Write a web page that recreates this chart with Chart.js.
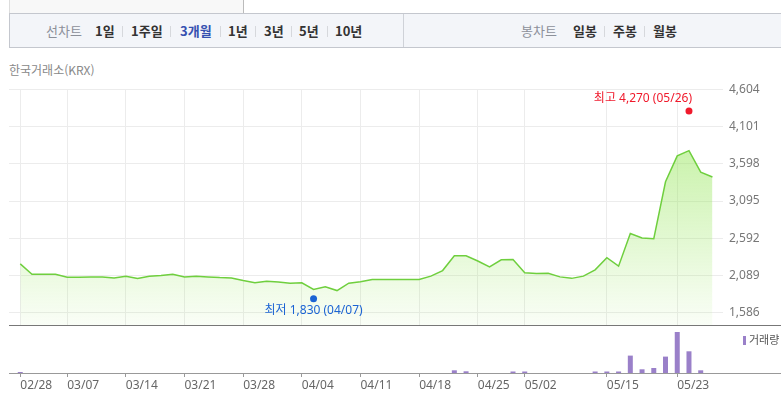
<!DOCTYPE html>
<html lang="ko">
<head>
<meta charset="UTF-8">
<title>한국거래소 3개월 차트</title>
<script src="https://cdn.jsdelivr.net/npm/chart.js@4.4.0/dist/chart.umd.min.js"></script>
<style>
  body { margin: 0; width: 781px; height: 397px; overflow: hidden; background: #fff;
         font-family: 'Noto Sans', 'Noto Sans CJK KR', sans-serif; position: relative; }
  .abs { position: absolute; }
  .topbox { left: 9px; top: 0; width: 233px; height: 13px; background: #f8f8f8; border-right: 1px solid #bbb; border-left: 1px solid #ddd; }
  .tabbar { left: 9px; top: 13px; width: 772px; height: 33px; background: #f3f5f9;
            border-top: 1px solid #c4c7ce; border-bottom: 1px solid #c4c7ce; border-left: 1px solid #c4c7ce; }
  .tabdiv { left: 403px; top: 14px; width: 1px; height: 33px; background: #cfd2d8; }
  .tab { top: 22px; font-size: 13px; font-weight: bold; color: #333; line-height: 18px; font-family: 'Noto Sans CJK KR', sans-serif; }
  .tab.lbl { color: #8c9099; font-weight: normal; }
  .tab.on { color: #3550b0; }
  .sep { top: 26px; width: 1px; height: 11px; background: #d6d8dc; }
  .src { left: 9px; top: 61px; font-size: 12px; color: #888; font-family: 'Noto Sans CJK KR', sans-serif; }
  .vlegend { left: 743px; top: 332px; font-size: 11px; color: #555; font-family: 'Noto Sans CJK KR', sans-serif; line-height: 14px; }
  .vlegend i { display: inline-block; width: 3px; height: 9px; background: #9a80c9; margin-right: 3px; vertical-align: -1px; }
  canvas { position: absolute; left: 0; }
</style>
</head>
<body>
<div class="abs topbox"></div>
<div class="abs tabbar"></div>
<div class="abs tabdiv"></div>

<span class="abs tab lbl" style="left:46px">선차트</span>
<span class="abs tab" style="left:95px">1일</span>
<span class="abs sep" style="left:122px"></span>
<span class="abs tab" style="left:131px">1주일</span>
<span class="abs sep" style="left:170px"></span>
<span class="abs tab on" style="left:180px">3개월</span>
<span class="abs sep" style="left:220px"></span>
<span class="abs tab" style="left:228px">1년</span>
<span class="abs sep" style="left:255px"></span>
<span class="abs tab" style="left:264px">3년</span>
<span class="abs sep" style="left:291px"></span>
<span class="abs tab" style="left:299px">5년</span>
<span class="abs sep" style="left:327px"></span>
<span class="abs tab" style="left:335px">10년</span>

<span class="abs tab lbl" style="left:521px">봉차트</span>
<span class="abs tab" style="left:573px">일봉</span>
<span class="abs sep" style="left:604px"></span>
<span class="abs tab" style="left:613px">주봉</span>
<span class="abs sep" style="left:644px"></span>
<span class="abs tab" style="left:653px">월봉</span>

<div class="abs src">한국거래소(KRX)</div>

<canvas id="price" width="781" height="245" style="top:80px"></canvas>
<canvas id="volume" width="781" height="72" style="top:325px"></canvas>
<div class="abs vlegend"><i></i>거래량</div>

<script>
// closing price per trading day (index 0 = 02/28)
const PRICE = [
  2245, 2105, 2105, 2105, 2065, 2065, 2070, 2070, 2055, 2080,
  2050, 2080, 2090, 2105, 2070, 2080, 2070, 2060, 2055, 2020,
  1990, 2010, 2000, 1985, 1990, 1900, 1935, 1885, 1985, 2005,
  2035, 2035, 2035, 2035, 2035, 2080, 2155, 2355, 2355, 2285,
  2205, 2300, 2305, 2125, 2115, 2120, 2070, 2050, 2080, 2165,
  2330, 2215, 2655, 2595, 2585, 3355, 3705, 3775, 3485, 3420
];
// trading volume (relative, thousand shares)
const VOLUME = [
  10, 0, 0, 0, 0, 0, 0, 0, 0, 0,
  0, 0, 0, 0, 0, 0, 0, 0, 0, 0,
  0, 0, 0, 0, 0, 0, 0, 0, 0, 0,
  0, 0, 0, 0, 0, 0, 0, 27, 17, 0,
  0, 0, 15, 15, 0, 0, 0, 0, 0, 15,
  15, 15, 174, 37, 50, 164, 410, 217, 27, 0
];
const X_TICK_IDX = [0, 4, 9, 14, 19, 24, 29, 34, 39, 43, 50, 56];
const X_TICK_LABELS = ['02/28', '03/07', '03/14', '03/21', '03/28', '04/04', '04/11', '04/18', '04/25', '05/02', '05/15', '05/23'];
const Y_TICKS = [1586, 2089, 2592, 3095, 3598, 4101, 4604];
const MARKERS = [
  { text: '최고 4,270 (05/26)', idx: 57, value: 4270, color: '#f01a2c', dy: -3, pos: 'above' },
  { text: '최저 1,830 (04/07)', idx: 25, value: 1830, color: '#1c64d4', dy: 4, pos: 'below' }
];

const X_MIN = -0.96, X_MAX = 59.9;
const AXIS_W = 58;
const FONT = "'Noto Sans', 'Noto Sans CJK KR', sans-serif";

Chart.defaults.font.family = FONT;
Chart.defaults.animation = false;

// no automatic label padding, so both charts share the same plot box
function noPad(s) {
  s.paddingTop = 0; s.paddingBottom = 0; s.paddingLeft = 0; s.paddingRight = 0;
}

function xAxis(extra, height) {
  return Object.assign({
    type: 'linear',
    offset: false,
    min: X_MIN,
    max: X_MAX,
    afterBuildTicks: s => { s.ticks = X_TICK_IDX.map(v => ({ value: v })); },
    afterFit: s => { s.height = height; noPad(s); }
  }, extra);
}

function yAxis(extra) {
  return Object.assign({
    position: 'right',
    afterFit: s => { s.width = AXIS_W; noPad(s); }
  }, extra);
}

const markerPlugin = {
  id: 'markers',
  afterDatasetsDraw(chart) {
    const { ctx, scales } = chart;
    ctx.save();
    ctx.font = '12px ' + FONT;
    MARKERS.forEach(m => {
      const x = scales.x.getPixelForValue(m.idx);
      const y = scales.y.getPixelForValue(m.value) + m.dy;
      ctx.fillStyle = m.color;
      ctx.beginPath();
      ctx.arc(x, y, 3.5, 0, Math.PI * 2);
      ctx.fill();
      ctx.textBaseline = 'middle';
      if (m.pos === 'above') {
        ctx.textAlign = 'right';
        ctx.fillText(m.text, x + 3, y - 12);
      } else {
        ctx.textAlign = 'center';
        ctx.fillText(m.text, x, y + 12);
      }
    });
    ctx.restore();
  }
};

new Chart(document.getElementById('price'), {
  type: 'line',
  data: {
    datasets: [{
      data: PRICE.map((v, i) => ({ x: i, y: v })),
      borderColor: '#6fcf3e',
      borderWidth: 1.5,
      pointRadius: 0,
      tension: 0,
      fill: 'start',
      backgroundColor: c => {
        const a = c.chart.chartArea;
        if (!a) return 'rgba(150,230,90,0.2)';
        const g = c.chart.ctx.createLinearGradient(0, a.top, 0, a.bottom);
        g.addColorStop(0, 'rgba(150,230,90,0.66)');
        g.addColorStop(1, 'rgba(150,230,90,0.05)');
        return g;
      }
    }]
  },
  options: {
    responsive: false,
    layout: { padding: { left: 9, top: 9.3, right: 0, bottom: 0 } },
    plugins: { legend: { display: false }, tooltip: { enabled: false } },
    scales: {
      x: xAxis({
        grid: { color: '#ececec', drawTicks: false },
        border: { display: false },
        ticks: { display: false }
      }, 0),
      y: yAxis({
        min: 1420,
        max: 4604,
        afterBuildTicks: s => { s.ticks = Y_TICKS.map(v => ({ value: v })); },
        grid: { color: '#ececec', drawTicks: false },
        border: { display: false },
        ticks: {
          padding: 6,
          color: '#777',
          font: { size: 12 },
          callback: v => v.toLocaleString('en-US')
        }
      })
    }
  },
  plugins: [markerPlugin]
});

const volumeLines = {
  id: 'volumeLines',
  beforeDraw(chart) {
    const { ctx, chartArea, width } = chart;
    ctx.save();
    ctx.lineWidth = 1;
    ctx.strokeStyle = '#777';
    ctx.beginPath();
    ctx.moveTo(chartArea.left, 0.5);
    ctx.lineTo(width, 0.5);
    ctx.stroke();
    ctx.strokeStyle = '#999';
    ctx.beginPath();
    ctx.moveTo(chartArea.left, Math.round(chartArea.bottom) + 0.5);
    ctx.lineTo(width, Math.round(chartArea.bottom) + 0.5);
    ctx.stroke();
    ctx.restore();
  }
};

new Chart(document.getElementById('volume'), {
  type: 'bar',
  data: {
    datasets: [{
      data: VOLUME.map((v, i) => ({ x: i, y: v })),
      backgroundColor: '#9a80c9',
      barThickness: 5,
      inflateAmount: 0
    }]
  },
  options: {
    responsive: false,
    layout: { padding: { left: 9, top: 0, right: 0, bottom: 0 } },
    plugins: { legend: { display: false }, tooltip: { enabled: false } },
    scales: {
      x: xAxis({
        grid: { offset: false, drawOnChartArea: false, drawTicks: true, tickLength: 4, color: '#999' },
        border: { display: false },
        ticks: {
          align: 'start',
          maxRotation: 0,
          autoSkip: false,
          padding: 1,
          color: '#666',
          font: { size: 12 },
          callback: (v, i) => X_TICK_LABELS[i]
        }
      }, 24),
      y: yAxis({
        min: 0,
        max: 480,
        grid: { display: false },
        border: { display: false },
        ticks: { display: false }
      })
    }
  },
  plugins: [volumeLines]
});
</script>
</body>
</html>
